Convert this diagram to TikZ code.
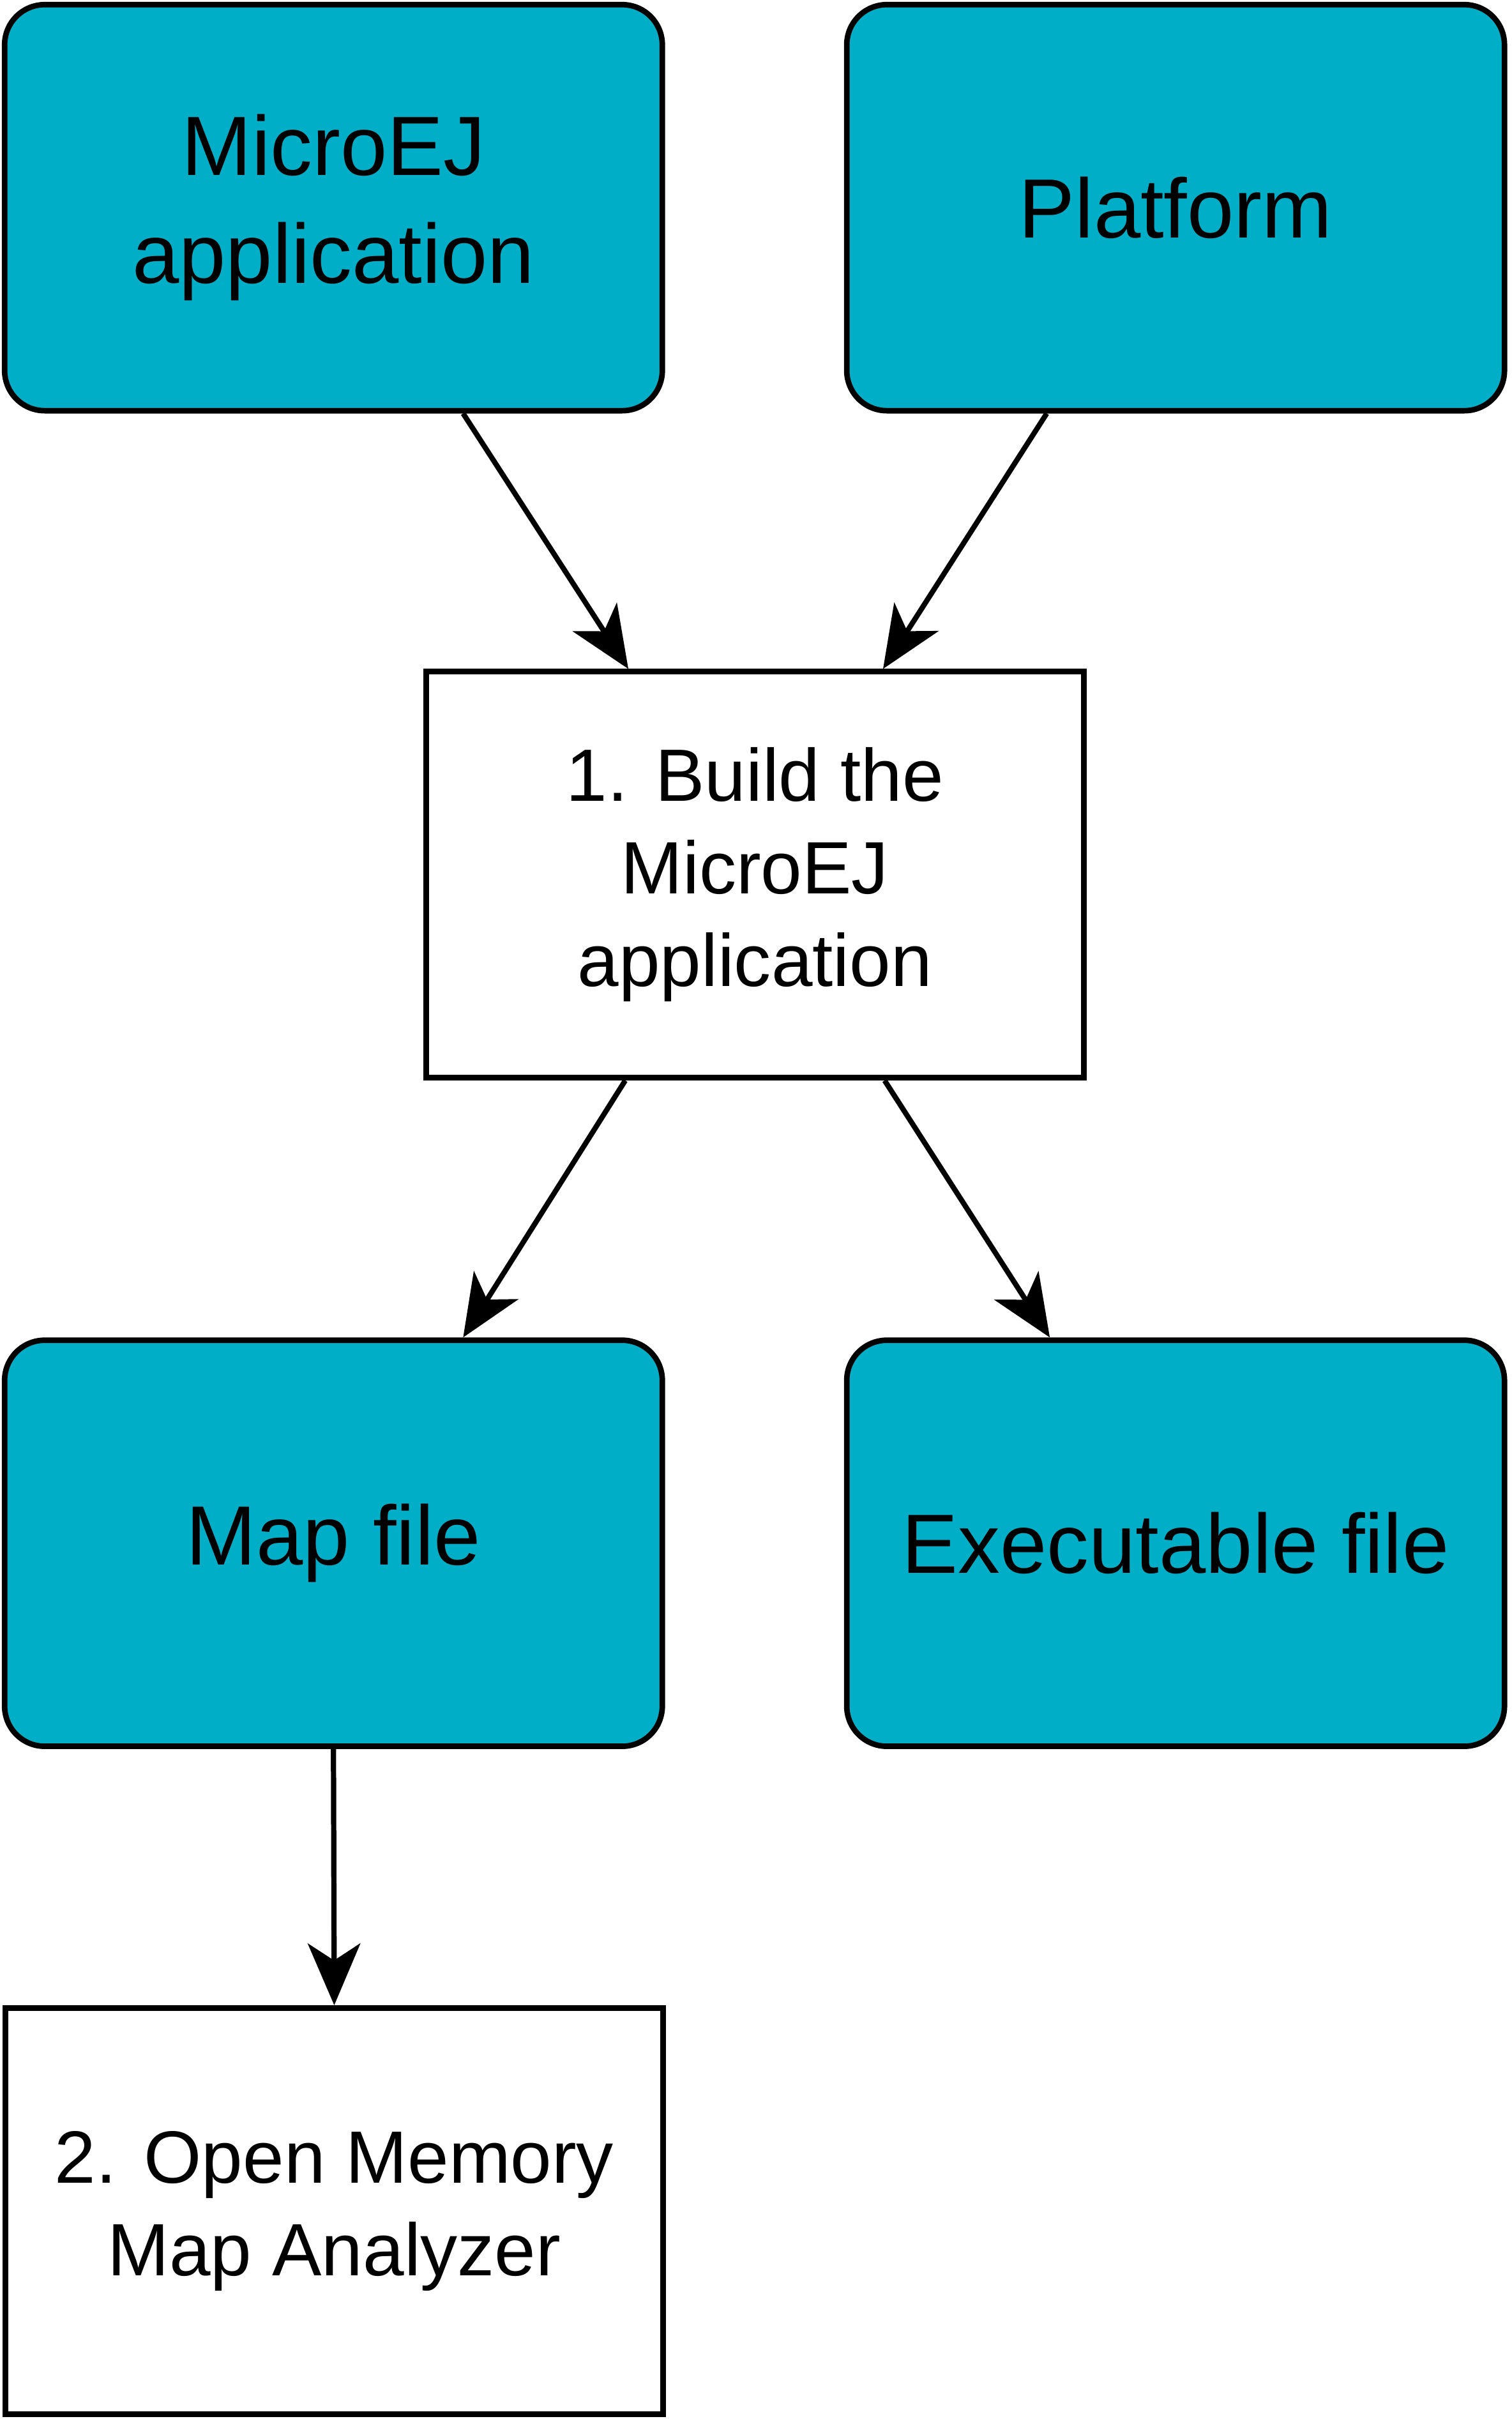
\documentclass[tikz,border=0pt]{standalone}
\usepackage{fontspec}
\setmainfont{Liberation Sans}
\usetikzlibrary{arrows.meta,calc}
\definecolor{teal1}{HTML}{00AEC7}
\begin{document}
\begin{tikzpicture}[x=1pt,y=-1pt,
  box/.style={draw=black,line width=3.6pt,minimum width=426pt,minimum height=263pt,align=center,inner sep=0pt,text=black},
  artifact/.style={box,fill=teal1,rounded corners=26pt,font=\fontsize{54.5}{70}\selectfont},
  stepbox/.style={box,fill=white,font=\fontsize{48}{60}\selectfont},
  conn/.style={line width=3.4pt,-{Stealth[length=40pt,width=34pt,inset=11pt]}}]
\useasboundingbox (0,0) rectangle (979,1566.7);
\node[artifact] (app) at (216,134.5) {MicroEJ\\application};
\node[artifact] (plat) at (761.5,134.5) {Platform};
\node[stepbox] (build) at (489,566.5) {1. Build the\\MicroEJ\\application};
\node[artifact] (map) at (216,999.5) {Map file};
\node[artifact] (exe) at (761.5,999.5) {Executable file};
\node[stepbox] (open) at (216.5,1432) {2. Open Memory\\Map Analyzer};
\draw[conn] ($(app.south)+(84,0)$) -- ($(build.north)+(-82,0)$);
\draw[conn] ($(plat.south)+(-83.5,0)$) -- ($(build.north)+(83,0)$);
\draw[conn] ($(build.south)+(-84,0)$) -- ($(map.north)+(84,0)$);
\draw[conn] ($(build.south)+(84,0)$) -- ($(exe.north)+(-81.5,0)$);
\draw[conn] (map.south) -- (open.north);
\end{tikzpicture}
\end{document}
